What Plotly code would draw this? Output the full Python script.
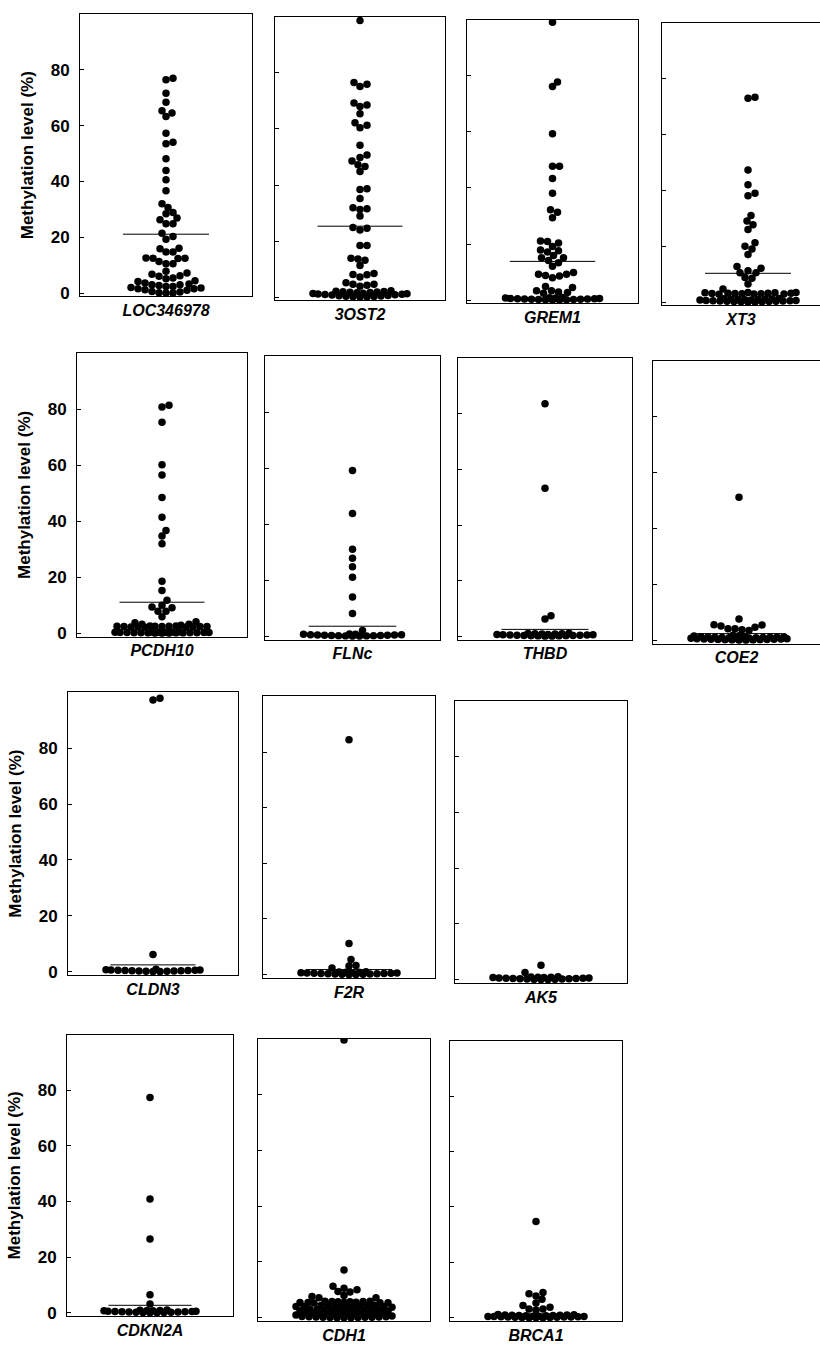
import numpy as np
import plotly.graph_objects as go

# ---------------- data ----------------
genes = ["LOC346978", "3OST2", "GREM1", "XT3",
         "PCDH10", "FLNc", "THBD", "COE2",
         "CLDN3", "F2R", "AK5",
         "CDKN2A", "CDH1", "BRCA1"]

loc346978 = [77.0, 76.4, 71.6, 68.4, 65.3, 64.5, 63.3, 57.3, 54.0, 53.5, 48.1, 43.9,
             40.6, 36.7, 32.0, 30.7, 28.9, 28.4, 26.9, 26.3, 24.8, 24.8, 21.4, 20.3,
             19.3, 16.1, 15.9, 14.7, 14.7, 12.5, 12.4, 12.6, 12.5, 11.3, 10.5, 10.5,
             7.8, 6.8, 7.2, 6.2, 5.4, 4.2, 3.3, 3.0, 2.7, 3.0, 3.6, 4.4, 5.1, 6.0,
             2.4, 2.0, 1.6, 1.0, 0.4, 0.0, 0.0, 0.1, 0.6, 1.2, 1.6, 1.8, 2.4]
ost2 = [98.7, 76.6, 75.2, 76.0, 69.3, 68.0, 68.6, 65.4, 61.3, 60.4, 62.2, 54.2,
        50.7, 49.8, 48.6, 47.2, 46.6, 44.8, 38.7, 38.4, 35.2, 31.9, 31.3, 31.5,
        28.9, 24.6, 23.9, 24.8, 18.4, 18.4, 13.9, 13.1, 13.6, 11.3, 8.1, 7.2,
        8.0, 8.4, 5.1, 4.6, 4.2, 3.9, 4.6,
        0.0, 0.1, 0.0, 0.3, 0.2, 0.5, 0.4, 0.7, 0.6, 0.9, 0.8, 1.1, 1.0, 1.3,
        1.2, 1.5, 1.4, 1.7, 1.9, 1.6, 2.1, 1.8, 2.3, 2.0]
grem1 = [99.2, 77.8, 76.2, 59.4, 47.8, 47.8, 43.4, 38.1, 32.2, 31.3, 29.4, 20.9,
         21.1, 20.4, 19.1, 17.6, 17.2, 17.9, 15.9, 15.1, 15.1, 14.1, 13.3, 12.1,
         9.8, 9.2, 8.6, 8.0, 8.8, 9.2, 4.5, 3.3, 2.7, 2.4, 2.9, 3.3, 4.8,
         0.0, 0.0, 0.1, 0.2, 0.1, 0.3, 0.2, 0.4, 0.3, 0.5, 0.4, 0.6, 0.5, 0.7,
         0.6, 0.8, 0.7, 0.9]
xt3 = [73.0, 73.4, 47.3, 42.0, 38.1, 39.0, 31.0, 29.0, 27.7, 26.0, 21.2, 19.0,
       20.0, 17.0, 12.1, 11.2, 10.5, 10.5, 12.7, 8.8, 8.5, 6.5, 4.7,
       3.2, 3.3, 3.1, 3.4, 3.0, 3.2, 2.9, 3.3, 3.1, 2.8, 3.4, 3.0, 3.2, 2.9,
       0.0, 0.1, 0.0, 0.2, 0.3, 0.1, 0.4, 0.2, 0.5, 0.3, 0.6, 0.4, 0.7, 0.5,
       0.8, 0.6, 0.9, 0.7, 1.0, 0.8, 1.1, 1.2, 1.0, 1.3]
pcdh10 = [81.4, 80.8, 75.3, 60.2, 56.5, 48.5, 41.4, 36.7, 34.7, 32.0, 18.6, 15.3,
          11.8, 10.0, 9.1, 7.9, 7.9, 9.4, 5.9, 3.8, 3.2, 2.9, 3.2, 4.1,
          2.4, 2.5, 2.3, 2.6, 2.2, 2.4, 2.5, 2.3, 2.6, 2.4, 2.2, 2.5, 2.3, 2.4,
          0.0, 0.1, 0.2, 0.0, 0.3, 0.1, 0.4, 0.2, 0.3, 0.5, 0.1, 0.4, 0.2, 0.6,
          0.3, 0.5, 0.0, 0.4, 0.2, 0.3]
flnc = [59.2, 43.8, 31.1, 27.9, 24.8, 21.1, 14.0, 8.1, 2.1,
        0.0, 0.1, 0.0, 0.2, 0.1, 0.3, 0.2, 0.4, 0.3, 0.5, 0.4, 0.6, 0.5, 0.7,
        0.6, 0.8, 0.7]
thbd = [83.6, 53.2, 7.4, 6.2,
        0.0, 0.1, 0.0, 0.2, 0.1, 0.3, 0.2, 0.4, 0.3, 0.5, 0.4, 0.6, 0.5, 0.7,
        0.6, 0.8, 0.7, 0.9, 0.8, 1.0, 0.9, 1.1]
coe2 = [51.2, 7.6, 5.5, 5.1, 4.1, 3.5, 3.8, 4.1, 4.7, 5.6,
        0.0, 0.1, 0.0, 0.2, 0.1, 0.3, 0.2, 0.4, 0.3, 0.5, 0.4, 0.6, 0.5, 0.7,
        0.6, 0.8, 0.7, 0.9, 0.8, 1.0, 0.9, 1.1, 1.0, 1.2, 1.1, 1.3, 1.2, 1.4,
        1.5, 1.3, 1.6, 1.8]
cldn3 = [97.3, 97.9, 6.1,
         0.0, 0.1, 0.0, 0.2, 0.1, 0.3, 0.2, 0.4, 0.3, 0.5, 0.4, 0.6, 0.5, 0.7,
         0.6, 0.8]
f2r = [84.4, 11.2, 5.4, 3.1, 3.3, 2.4,
       0.0, 0.1, 0.0, 0.2, 0.1, 0.3, 0.2, 0.4, 0.3, 0.5, 0.4, 0.6, 0.5, 0.7,
       0.6, 0.8, 0.7, 0.9, 0.8, 1.0]
ak5 = [5.1, 2.5,
       0.0, 0.1, 0.0, 0.2, 0.1, 0.3, 0.2, 0.4, 0.3, 0.5, 0.4, 0.6, 0.5, 0.7,
       0.6, 0.8, 0.7, 0.9, 0.8, 1.0]
cdkn2a = [77.4, 40.9, 26.5, 6.5, 3.2,
          0.0, 0.1, 0.0, 0.2, 0.1, 0.3, 0.2, 0.4, 0.3, 0.5, 0.4, 0.6, 0.5, 0.7,
          0.6, 0.8, 0.7, 0.9, 0.8, 1.0]
cdh1 = [99.5, 17.1, 10.6, 9.4, 8.0, 7.2, 7.2, 7.6, 9.2, 10.0, 11.3,
        5.8, 5.6, 5.9, 5.5, 5.7, 5.4, 5.8, 5.6, 5.3, 5.7, 5.5, 5.9, 5.4,
        4.2, 4.0, 4.4, 3.9, 4.3, 4.1, 3.8, 4.5, 4.0, 4.2, 3.7, 4.4, 4.1,
        2.8, 2.6, 3.0, 2.5, 2.9, 2.7, 2.4, 3.1, 2.6, 2.8, 2.3, 3.0, 2.7,
        1.5, 1.3, 1.7, 1.2, 1.6, 1.4, 1.1, 1.8, 1.3, 1.5, 1.0, 1.7, 1.4,
        0.0, 0.2, 0.1, 0.3, 0.0, 0.4, 0.2, 0.5, 0.1, 0.3, 0.6, 0.0, 0.4, 0.2]
brca1 = [34.7, 9.1, 8.7, 7.9, 6.7, 5.3, 3.8, 3.2, 2.8, 3.2, 4.4,
         0.0, 0.1, 0.0, 0.2, 0.1, 0.3, 0.2, 0.4, 0.3, 0.5, 0.4, 0.6, 0.5, 0.7,
         0.6, 0.8, 0.7, 0.9, 0.8, 1.0, 0.9, 1.1, 1.0, 1.2, 0.0, 0.3, 0.5]

series = [loc346978, ost2, grem1, xt3, pcdh10, flnc, thbd, coe2,
          cldn3, f2r, ak5, cdkn2a, cdh1, brca1]

# mean-line levels
means = [21.1, 25.3, 13.8, 10.3, 11.1, 3.6, 2.5, 2.4, 2.4, 1.8, 0.8, 2.7, 5.1, 1.4]

y_ticks = [0, 20, 40, 60, 80]

# ---------------- layout (pixel boxes of the panels) ----------------
W, H = 820, 1353
boxes = [  # x0, x1, ytop, ybottom
    (80, 252, 14, 298), (275, 445, 17, 302), (467, 638, 20, 305), (662, 834, 23, 307),
    (77, 247, 355, 640), (265, 440, 358, 643), (458, 632, 360, 643), (653, 825, 363, 647),
    (68, 238, 696, 980), (263, 435, 700, 983), (455, 627, 705, 988),
    (67, 233, 1040, 1323), (258, 430, 1044, 1328), (450, 622, 1046, 1328),
]
first_in_row = {0, 4, 8, 11}
Y_RANGE = [-1.2, 100]
DOT = 7.5


def swarm(vals, ppx, ppy, d, maxw):
    vals = np.asarray(vals, float)
    order = np.argsort(vals, kind="stable")
    xs = np.zeros(len(vals))
    px, py = [], []
    cands = [0]
    for k in range(1, int(maxw) + 1):
        cands += [k, -k]
    for i in order:
        y = vals[i] * ppy
        best, bestd, bestc = None, -1, 0
        for c in cands:
            if px:
                dist = np.min(np.hypot(np.array(px) - c, np.array(py) - y))
            else:
                dist = 1e9
            if dist >= d:
                best = c
                break
            if dist > bestd + 0.01:
                bestd, bestc = dist, c
        if best is None:
            best = bestc
        px.append(best)
        py.append(y)
        xs[i] = best / ppx
    return xs


fig = go.Figure()
FAM = "Liberation Sans, Arial, sans-serif"
font_b = dict(family=FAM, size=17, color="black", weight="bold")

for i, (g, vals, m, box) in enumerate(zip(genes, series, means, boxes)):
    x0, x1, yt, yb = box
    xe = min(x1, W)
    ppx = (x1 - x0) / 2.0
    ppy = (yb - yt) / (Y_RANGE[1] - Y_RANGE[0])
    xs = swarm(vals, ppx, ppy, DOT - 0.8, 0.56 * ppx)
    n = "" if i == 0 else str(i + 1)
    fig.add_trace(go.Scatter(x=xs, y=vals, mode="markers",
                             marker=dict(size=DOT, color="black", line=dict(width=0)),
                             xaxis="x" + n, yaxis="y" + n, showlegend=False,
                             hoverinfo="y"))
    fig.add_trace(go.Scatter(x=[-0.5, 0.5], y=[m, m], mode="lines",
                             line=dict(color="black", width=1),
                             xaxis="x" + n, yaxis="y" + n, showlegend=False,
                             hoverinfo="skip"))
    xr = [-1, -1 + 2 * (xe - x0) / (x1 - x0)]
    clipped = x1 > W
    fig.update_layout(**{
        "xaxis" + n: dict(domain=[x0 / W, xe / W], range=xr, anchor="y" + n,
                          showticklabels=False, ticks="", showgrid=False, zeroline=False,
                          showline=True, linecolor="black", linewidth=1, mirror=True,
                          title=dict(text=g, standoff=8,
                                     font=dict(family=FAM, size=16, color="black",
                                               weight="bold", style="italic"))),
        "yaxis" + n: dict(domain=[1 - yb / H, 1 - yt / H], range=Y_RANGE, anchor="x" + n,
                          tickvals=y_ticks, ticks="inside", ticklen=4, tickcolor="black",
                          showticklabels=(i in first_in_row), tickfont=font_b,
                          ticklabelstandoff=6,
                          showgrid=False, zeroline=False,
                          showline=True, linecolor="black", linewidth=1,
                          mirror=(not clipped),
                          title=dict(text="Methylation level (%)" if i in first_in_row else "",
                                     standoff=12,
                                     font=dict(family=FAM, size=17, color="black",
                                               weight="bold"))),
    })

fig.update_layout(width=W, height=H, margin=dict(l=0, r=0, t=0, b=0),
                  paper_bgcolor="white", plot_bgcolor="white")

fig.write_html("out.html")
